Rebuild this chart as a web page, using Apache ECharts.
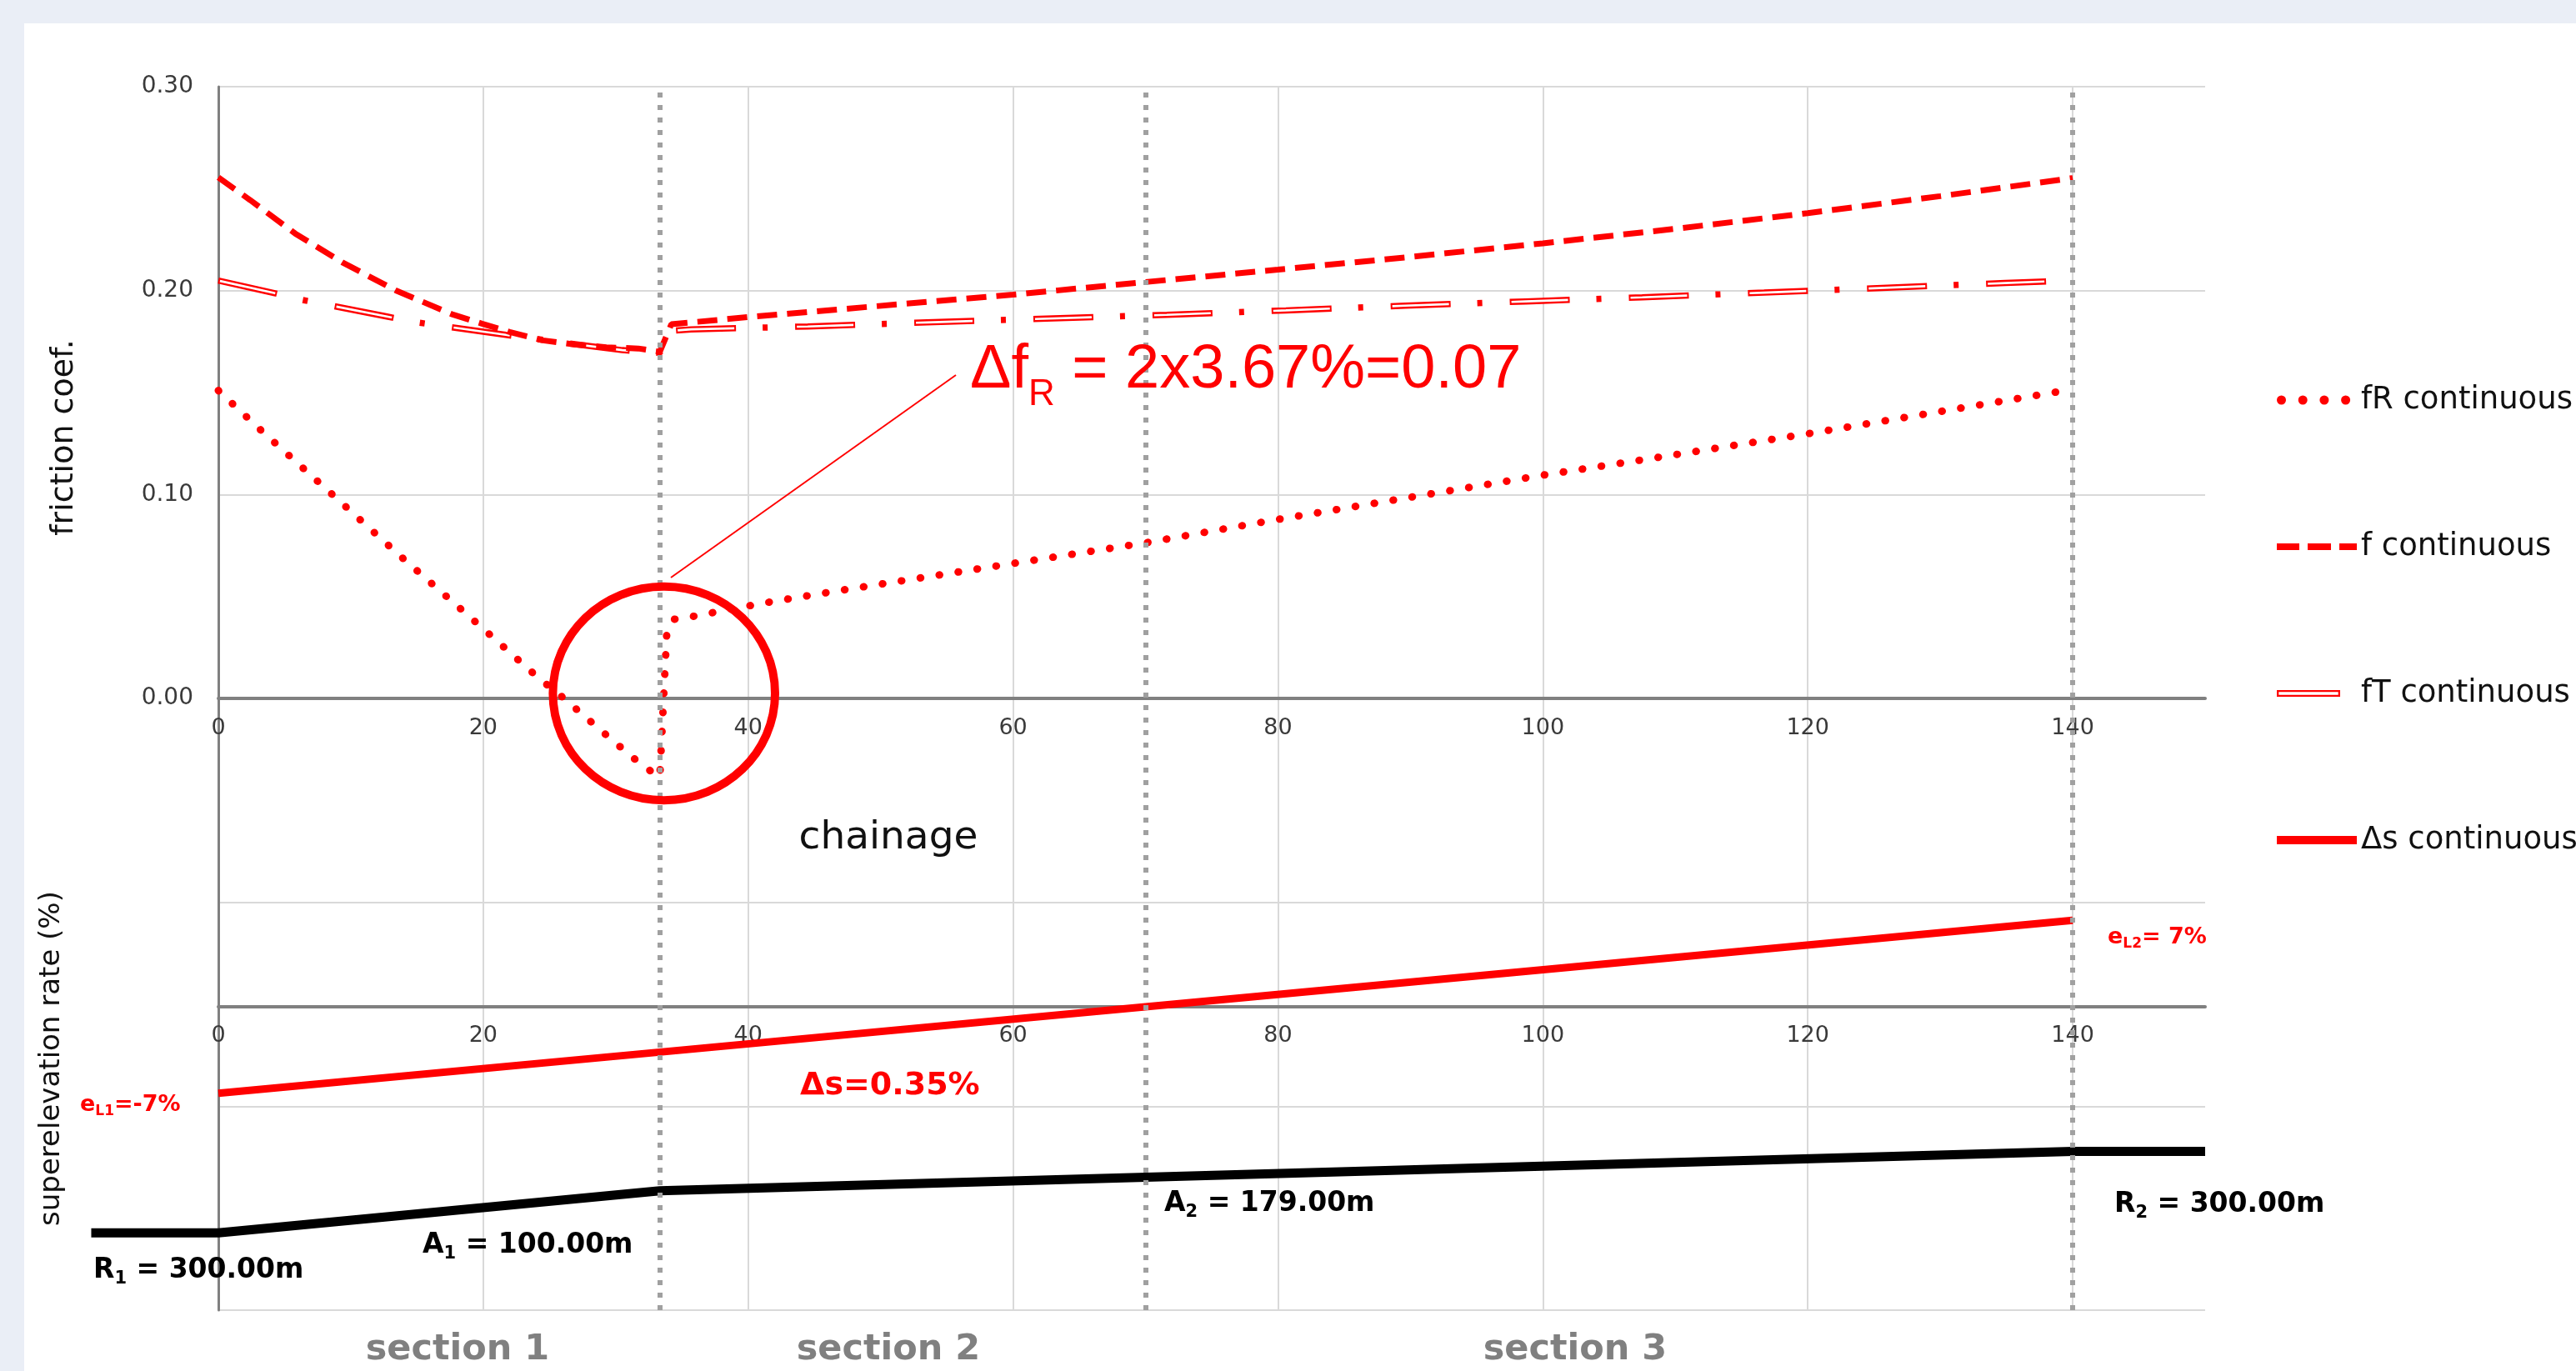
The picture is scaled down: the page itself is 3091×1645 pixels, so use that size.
<!DOCTYPE html>
<html>
<head>
<meta charset="utf-8">
<script src="https://cdn.jsdelivr.net/npm/echarts@6/dist/echarts.min.js"></script>
<style>
html,body{margin:0;padding:0;width:3091px;height:1645px;overflow:hidden;background:#EAEEF6;}
#panel{position:absolute;left:29px;top:28px;width:3062px;height:1617px;background:#ffffff;}
#chart{position:absolute;left:0;top:0;width:3091px;height:1645px;}
</style>
</head>
<body>
<div id="panel"></div>
<div id="chart"></div>
<script>
// ---------------- data ----------------
const chainageTicks = [0, 20, 40, 60, 80, 100, 120, 140];
const frictionTicks = ['0.00', '0.10', '0.20', '0.30'];
const sectionBounds = [33.33, 70, 140];
const sectionNames = ['section 1', 'section 2', 'section 3'];

// [chainage, friction coef.]
const fRContinuous = [
  [0, 0.151], [3.1, 0.1322], [8.4, 0.1012], [13.6, 0.0706], [19.0, 0.0399],
  [24.3, 0.0093], [25.5, 0.0033], [29.8, -0.0208], [32.0, -0.0328], [33.33, -0.0386],
  [33.86, 0.0327], [34.4, 0.0388], [36.0, 0.0404], [39.1, 0.0443], [42.2, 0.0479],
  [46.9, 0.0529], [59.5, 0.0657], [70, 0.0763], [80, 0.0878], [100, 0.1095],
  [108.3, 0.1178], [120, 0.1298], [140, 0.1516]
];
const fContinuous = [
  [0, 0.2555], [2.4, 0.2444], [5.8, 0.228], [9.4, 0.2137], [13.4, 0.2001],
  [17.6, 0.1885], [19.9, 0.1838], [22.0, 0.1797], [24.5, 0.1756], [26.9, 0.1736],
  [29.3, 0.1722], [31.7, 0.1716], [33.33, 0.1700], [34.2, 0.1835], [40, 0.1870],
  [46.5, 0.1906], [60, 0.198], [70, 0.2042], [80, 0.2103], [90, 0.2165],
  [100, 0.2232], [110, 0.2303], [120, 0.2380], [130, 0.2463], [140, 0.2552]
];
const fTContinuous = [
  [0, 0.2049], [4.2, 0.1988], [6.2, 0.1956], [12.8, 0.1872], [15.0, 0.1844],
  [21.7, 0.1783], [26.0, 0.1745], [30.5, 0.1708], [33.33, 0.1695], [34.3, 0.1803],
  [35.7, 0.181], [44.5, 0.1824], [53.5, 0.1844], [71.6, 0.1881], [80.6, 0.1903],
  [89.6, 0.1926], [98.7, 0.1947], [107.5, 0.1967], [116.7, 0.199], [134.9, 0.2037],
  [140, 0.2050]
];
// [chainage, superelevation rate %]
const deltaSContinuous = [[0, -7], [33.33, -3.67], [70, 0], [140, 7]];
// curvature band (schematic, same lower axis)
const curvatureBand = [[-9.6, -18.3], [0, -18.3], [33.33, -14.9], [140, -11.7], [150, -11.7]];
const superelevationRange = [-24.56, 74.49];

// ---------------- chart ----------------
const RED = '#FF0000';
const FONT = 'DejaVu Sans';
const PLOT = { left: 262, right: 445, top: 104, bottom: 73 };
const TOP_AXIS_BOTTOM = 1645 - 838;   // pixel row of friction 0.00
const LOW_AXIS_BOTTOM = 1645 - 1208;  // pixel row of superelevation 0 %

const dotsIcon = 'path://M0,5.5a5.5,5.5 0 1,0 11,0a5.5,5.5 0 1,0 -11,0Z' +
  'M25.7,5.5a5.5,5.5 0 1,0 11,0a5.5,5.5 0 1,0 -11,0Z' +
  'M51.4,5.5a5.5,5.5 0 1,0 11,0a5.5,5.5 0 1,0 -11,0Z' +
  'M77.1,5.5a5.5,5.5 0 1,0 11,0a5.5,5.5 0 1,0 -11,0Z' +
  'M95.9,5.45h0.1v0.1h-0.1Z';
const dashIcon = 'path://M0,0h27v8h-27Z M37,0h28v8h-28Z M75,0h21v8h-21Z';
const doubleIcon = 'path://M0,0h76v8h-76Z M2.3,2.3v3.4h71.4v-3.4Z M95.9,3.95h0.1v0.1h-0.1Z';
const solidIcon = 'path://M0,0h96v10h-96Z';

const chart = echarts.init(document.getElementById('chart'), null, { renderer: 'canvas' });

const labelFmt = v => (chainageTicks.indexOf(v) >= 0 ? String(v) : '');

function hiddenY(grid, min, max) {
  return { type: 'value', gridIndex: grid, min: min, max: max, show: false, splitLine: { show: false } };
}
function labelX(grid, margin) {
  return {
    type: 'value', gridIndex: grid, min: 0, max: 150, interval: 20, position: 'bottom',
    axisLine: { show: true, onZero: false, lineStyle: { color: '#808080', width: 4 } },
    axisTick: { show: false },
    axisLabel: { fontSize: 27, fontFamily: FONT, color: '#3A3A3A', margin: margin, showMaxLabel: false, formatter: labelFmt },
    splitLine: { show: false }
  };
}

function txt(x, y, text, style, extra) {
  return Object.assign({
    type: 'text', x: x, y: y, z: 100, silent: true,
    style: Object.assign({ text: text, fontFamily: FONT, verticalAlign: 'middle', align: 'left' }, style)
  }, extra || {});
}

function subLabel(x, y, main, sub, rest, size, subSize, pad, color) {
  const m = { fontSize: size, fontFamily: FONT, fontWeight: 'bold', lineHeight: size + 24, fill: color };
  const s = { fontSize: subSize, fontFamily: FONT, fontWeight: 'bold', lineHeight: size + 24, fill: color, padding: [pad, 0, 0, 0] };
  return txt(x, y, '{m|' + main + '}{s|' + sub + '}{m|' + rest + '}', { fill: color, rich: { m: m, s: s } });
}

const option = {
  animation: false,
  backgroundColor: 'transparent',
  grid: [
    Object.assign({}, PLOT),                                            // 0: friction plot
    Object.assign({}, PLOT, { bottom: TOP_AXIS_BOTTOM }),               // 1: chainage axis at f = 0
    Object.assign({}, PLOT, { bottom: LOW_AXIS_BOTTOM }),               // 2: chainage axis at e = 0
    Object.assign({}, PLOT),                                            // 3: superelevation plot
    Object.assign({}, PLOT, { left: 262 - 9.6 * (2383 / 150) })         // 4: curvature band
  ],
  xAxis: [
    {
      type: 'value', gridIndex: 0, min: 0, max: 150, interval: 20,
      axisLine: { show: false }, axisTick: { show: false }, axisLabel: { show: false },
      splitLine: { show: true, showMaxLine: false, lineStyle: { color: '#D9D9D9', width: 2 } }
    },
    labelX(1, 22),
    labelX(2, 21),
    { type: 'value', gridIndex: 3, min: 0, max: 150, show: false, splitLine: { show: false } },
    { type: 'value', gridIndex: 4, min: -9.6, max: 150, show: false, splitLine: { show: false } }
  ],
  yAxis: [
    {
      type: 'value', gridIndex: 0, min: -0.3, max: 0.3, interval: 0.1,
      axisLine: { show: true, onZero: false, lineStyle: { color: '#808080', width: 3 } },
      axisTick: { show: false },
      axisLabel: {
        fontSize: 28, fontFamily: FONT, color: '#3A3A3A', margin: 30,
        formatter: v => { const s = v.toFixed(2); return frictionTicks.indexOf(s) >= 0 ? s : ''; }
      },
      splitLine: { show: true, lineStyle: { color: '#D9D9D9', width: 2 } }
    },
    hiddenY(1, 0, 0.3),
    hiddenY(2, 0, superelevationRange[1]),
    hiddenY(3, superelevationRange[0], superelevationRange[1]),
    hiddenY(4, superelevationRange[0], superelevationRange[1])
  ],
  legend: {
    orient: 'vertical', left: 2732, top: 460, padding: 0,
    itemWidth: 96, itemHeight: 14, itemGap: 136, selectedMode: false,
    symbolKeepAspect: true,
    textStyle: { fontSize: 37, fontFamily: FONT, color: '#111111', lineHeight: 40 },
    data: [
      { name: 'fR continuous', icon: dotsIcon, itemStyle: { color: RED, borderWidth: 0 } },
      { name: 'f continuous', icon: dashIcon, itemStyle: { color: RED, borderWidth: 0 } },
      { name: 'fT continuous', icon: doubleIcon, itemStyle: { color: RED, borderWidth: 0 } },
      { name: 'Δs continuous', icon: solidIcon, itemStyle: { color: RED, borderWidth: 0 } }
    ]
  },
  series: [
    {
      name: 'fR continuous', type: 'line', xAxisIndex: 0, yAxisIndex: 0,
      data: fRContinuous, symbol: 'none', z: 4,
      lineStyle: { color: RED, width: 9, type: [0.5, 22.5], cap: 'round' },
      markLine: {
        silent: true, symbol: ['none', 'none'], label: { show: false },
        lineStyle: { color: '#A0A0A0', width: 6, type: [6, 9] },
        data: sectionBounds.map(b => ({ xAxis: b }))
      }
    },
    {
      name: 'f continuous', type: 'line', xAxisIndex: 0, yAxisIndex: 0,
      data: fContinuous, symbol: 'none', z: 4,
      lineStyle: { color: RED, width: 7, type: [24, 12] }
    },
    {
      name: 'fT continuous', type: 'line', xAxisIndex: 0, yAxisIndex: 0,
      data: fTContinuous, symbol: 'none', z: 3,
      lineStyle: { color: RED, width: 7.5, type: [72, 32, 6, 33] }
    },
    {
      name: 'fT continuous inner', type: 'line', xAxisIndex: 0, yAxisIndex: 0,
      data: fTContinuous, symbol: 'none', z: 3, silent: true,
      lineStyle: { color: '#FFFFFF', width: 2.6, type: [68, 75], dashOffset: -2 }
    },
    {
      name: 'Δs continuous', type: 'line', xAxisIndex: 3, yAxisIndex: 3,
      data: deltaSContinuous, symbol: 'none', z: 4,
      lineStyle: { color: RED, width: 9 }
    },
    {
      name: 'curvature', type: 'line', xAxisIndex: 4, yAxisIndex: 4,
      data: curvatureBand, symbol: 'none', z: 4,
      lineStyle: { color: '#000000', width: 11 }
    }
  ],
  graphic: [
    // annotation circle and leader line
    { type: 'ellipse', z: 100, silent: true, shape: { cx: 796.7, cy: 832, rx: 133.3, ry: 128.2 },
      style: { fill: 'none', stroke: RED, lineWidth: 10 } },
    { type: 'line', z: 100, silent: true, shape: { x1: 1147, y1: 450, x2: 805, y2: 693 },
      style: { stroke: RED, lineWidth: 2 } },
    // Δf_R annotation
    txt(1164, 445, '{a|Δf}{s|R}{a| = 2x3.67%=0.07}', {
      fill: RED,
      rich: {
        a: { fontSize: 74, fontFamily: 'Liberation Sans', lineHeight: 130, fill: RED },
        s: { fontSize: 44, fontFamily: 'Liberation Sans', lineHeight: 130, fill: RED, padding: [57, 0, 0, 0] }
      }
    }),
    // axis titles
    txt(77, 525, 'friction coef.', { fontSize: 38, fill: '#111111', align: 'center' }, { rotation: Math.PI / 2 }),
    txt(62, 1270, 'superelevation rate (%)', { fontSize: 34, fill: '#111111', align: 'center' }, { rotation: Math.PI / 2 }),
    txt(1066, 1006, 'chainage', { fontSize: 47, fill: '#111111', align: 'center' }),
    // superelevation labels
    subLabel(96, 1326, 'e', 'L1', '=-7%', 27, 17, 16, RED),
    subLabel(2529, 1125, 'e', 'L2', '= 7%', 27, 17, 16, RED),
    txt(960, 1303, 'Δs=0.35%', { fontSize: 38, fontWeight: 'bold', fill: RED }),
    // curvature labels
    subLabel(112, 1524, 'R', '1', ' = 300.00m', 33, 21, 21, '#000000'),
    subLabel(507, 1494, 'A', '1', ' = 100.00m', 33, 21, 21, '#000000'),
    subLabel(1397, 1444, 'A', '2', ' = 179.00m', 33, 21, 21, '#000000'),
    subLabel(2537, 1445, 'R', '2', ' = 300.00m', 33, 21, 21, '#000000'),
    // section names
    txt(549, 1620, sectionNames[0], { fontSize: 43, fontWeight: 'bold', fill: '#808080', align: 'center' }),
    txt(1066, 1620, sectionNames[1], { fontSize: 43, fontWeight: 'bold', fill: '#808080', align: 'center' }),
    txt(1890, 1620, sectionNames[2], { fontSize: 43, fontWeight: 'bold', fill: '#808080', align: 'center' })
  ]
};

chart.setOption(option);
</script>
</body>
</html>
